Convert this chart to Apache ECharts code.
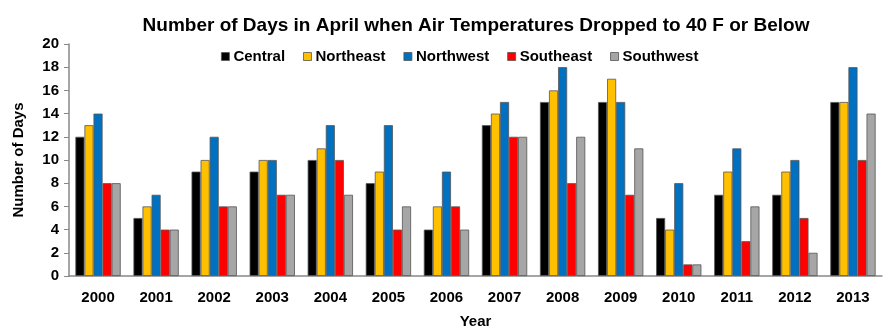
<!DOCTYPE html>
<html><head><meta charset="utf-8">
<script src="https://cdn.jsdelivr.net/npm/echarts@6/dist/echarts.min.js"></script>
<style>html,body{margin:0;padding:0;background:#fff}#c{width:893px;height:336px}</style>
</head><body><div id="c"></div>
<script>
var years = ['2000','2001','2002','2003','2004','2005','2006','2007','2008','2009','2010','2011','2012','2013'];
var central   = [12,5,9,9,10,8,4,13,15,15,5,7,7,15];
var northeast = [13,6,10,10,11,9,6,14,16,17,4,9,9,15];
var northwest = [14,7,12,10,13,13,9,15,18,15,8,11,10,18];
var southeast = [8,4,6,7,10,4,6,12,8,7,1,3,5,10];
var southwest = [8,4,6,7,7,6,4,12,12,11,1,6,2,14];
var seriesNames = ['Central','Northeast','Northwest','Southeast','Southwest'];
var seriesData = [central, northeast, northwest, southeast, southwest];
var colors = ['#000000','#FFC000','#0070C0','#FF0000','#A6A6A6'];
var yTicks = [0,2,4,6,8,10,12,14,16,18,20];

var chart = echarts.init(document.getElementById('c'));
var font = 'Liberation Sans, Arial, sans-serif';
chart.setOption({
  animation: false,
  title: {
    text: 'Number of Days in April when Air Temperatures Dropped to 40 F or Below',
    left: 471, top: 11, textAlign: 'center',
    textStyle: {fontFamily: font, fontWeight: 'bold', fontSize: 19, color: '#000'}
  },
  legend: {
    data: seriesNames,
    left: 216, top: 44,
    itemWidth: 8, itemHeight: 8, itemGap: 18,
    icon: 'rect',
    itemStyle: {borderColor: '#555', borderWidth: 0.8},
    textStyle: {fontFamily: font, fontWeight: 'bold', fontSize: 15, color: '#000', padding: [0,0,0,-1]}
  },
  grid: {left: 69, right: 11, top: 44, bottom: 60, outerBoundsMode: 'none', containLabel: false},
  xAxis: {
    type: 'category', data: years,
    name: 'Year', nameLocation: 'middle', nameGap: 38,
    nameTextStyle: {fontFamily: font, fontWeight: 'bold', fontSize: 15, color: '#000'},
    axisLine: {lineStyle: {color: '#888', width: 1.5}},
    axisTick: {show: false},
    axisLabel: {fontFamily: font, fontWeight: 'bold', fontSize: 15, color: '#000', margin: 14}
  },
  yAxis: {
    type: 'value', min: 0, max: 20, interval: 2,
    name: 'Number of Days', nameLocation: 'middle', nameGap: 43,
    nameTextStyle: {fontFamily: font, fontWeight: 'bold', fontSize: 15, color: '#000'},
    axisLine: {show: true, lineStyle: {color: '#888', width: 1.5}},
    axisTick: {show: true, length: 5, lineStyle: {color: '#888'}},
    splitLine: {show: false},
    axisLabel: {fontFamily: font, fontWeight: 'bold', fontSize: 15, color: '#000', margin: 10,
      formatter: function(v){ return yTicks.indexOf(v) >= 0 ? String(v) : ''; }}
  },
  series: seriesData.map(function(d, i){
    return {
      name: seriesNames[i], type: 'bar', data: d,
      barGap: '0%', barCategoryGap: '22%',
      itemStyle: {color: colors[i], borderColor: '#555', borderWidth: 0.8}
    };
  })
});
</script></body></html>
